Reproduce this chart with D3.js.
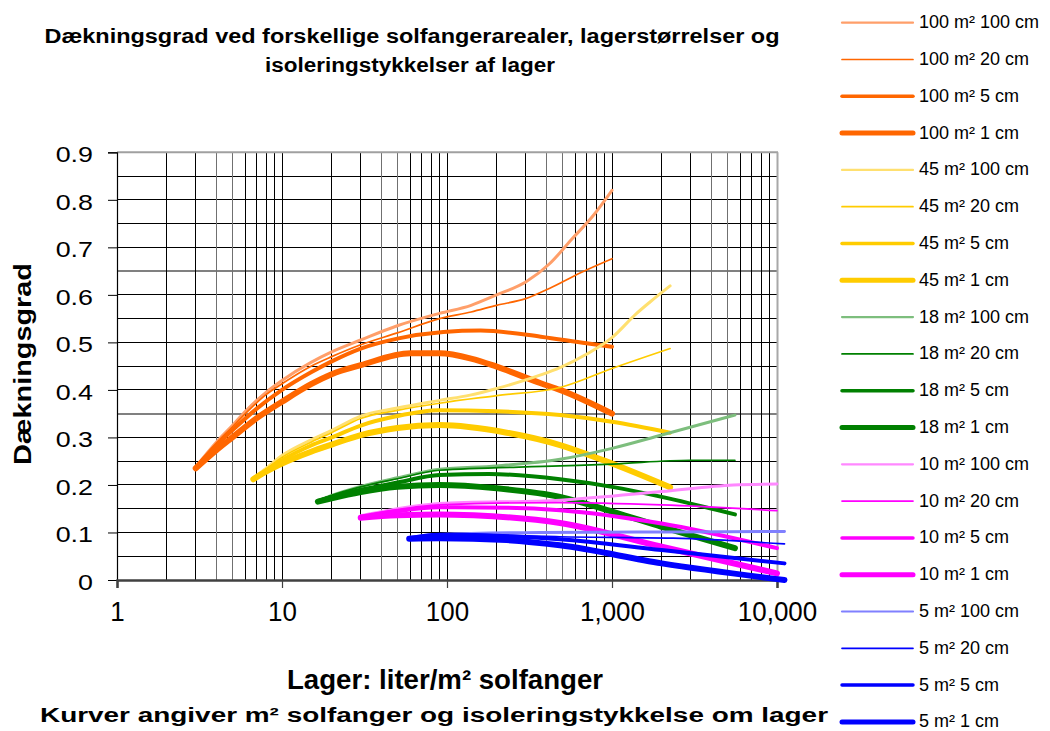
<!DOCTYPE html>
<html><head><meta charset="utf-8">
<script src="https://cdn.jsdelivr.net/npm/d3@7"></script>
<style>
body{margin:0;background:#fff}
svg{display:block}
text{font-family:"Liberation Sans",Arial,sans-serif;fill:#000}
</style>
</head><body>
<svg id="chart" width="1050" height="731"></svg>
<script>
// ---------- data ----------
const titleLines = ["Dækningsgrad ved forskellige solfangerarealer, lagerstørrelser og", "isoleringstykkelser af lager"];
const yTitle = "Dækningsgrad";
const xTitle = "Lager: liter/m² solfanger";
const subTitle = "Kurver angiver m² solfanger og isoleringstykkelse om lager";
const xTickValues = [1, 10, 100, 1000, 10000];
const yTickValues = [0, 0.1, 0.2, 0.3, 0.4, 0.5, 0.6, 0.7, 0.8, 0.9];
const legendLabels = [
  "100 m² 100 cm","100 m² 20 cm","100 m² 5 cm","100 m² 1 cm",
  "45 m² 100 cm","45 m² 20 cm","45 m² 5 cm","45 m² 1 cm",
  "18 m² 100 cm","18 m² 20 cm","18 m² 5 cm","18 m² 1 cm",
  "10 m² 100 cm","10 m² 20 cm","10 m² 5 cm","10 m² 1 cm",
  "5 m² 100 cm","5 m² 20 cm","5 m² 5 cm","5 m² 1 cm"
];
// [liter/m², dækningsgrad]
const a100_100 = [[3,0.238],[4,0.29],[5,0.325],[6,0.355],[8,0.395],[10,0.42],[15,0.458],[20,0.48],[30,0.505],[50,0.535],[90,0.561],[140,0.578],[200,0.6],[300,0.627],[420,0.666],[570,0.717],[770,0.767],[1000,0.82]];
const a100_20  = [[3,0.238],[4,0.288],[5,0.322],[6,0.35],[8,0.39],[10,0.413],[15,0.45],[20,0.47],[30,0.495],[50,0.52],[90,0.55],[140,0.564],[200,0.578],[300,0.592],[420,0.614],[640,0.646],[1000,0.676]];
const a100_5   = [[3,0.237],[4,0.283],[5,0.315],[7,0.36],[10,0.4],[15,0.437],[20,0.46],[30,0.487],[50,0.508],[95,0.522],[160,0.525],[370,0.512],[700,0.498],[1000,0.491]];
const a100_1   = [[3,0.235],[4,0.273],[5,0.3],[7,0.34],[10,0.375],[15,0.412],[20,0.433],[30,0.452],[60,0.477],[90,0.477],[140,0.466],[200,0.449],[370,0.414],[484,0.4],[1000,0.35]];
const a45_100  = [[6.7,0.215],[8,0.235],[10,0.262],[15,0.295],[20,0.315],[30,0.345],[50,0.362],[90,0.378],[138,0.389],[200,0.403],[366,0.431],[484,0.447],[700,0.475],[1000,0.51],[1400,0.56],[1700,0.585],[2250,0.619]];
const a45_20   = [[6.7,0.214],[8,0.233],[10,0.258],[15,0.29],[20,0.31],[30,0.34],[50,0.357],[90,0.372],[200,0.388],[484,0.405],[1000,0.445],[2250,0.487]];
const a45_5    = [[6.7,0.213],[8,0.23],[10,0.252],[15,0.283],[20,0.3],[30,0.325],[50,0.345],[90,0.357],[200,0.355],[484,0.347],[1000,0.333],[2250,0.31]];
const a45_1    = [[6.7,0.212],[8,0.228],[10,0.245],[15,0.27],[20,0.285],[30,0.305],[50,0.32],[90,0.326],[230,0.31],[484,0.284],[1000,0.245],[2250,0.195]];
const a18_100  = [[16.5,0.167],[20,0.178],[30,0.197],[50,0.215],[90,0.233],[200,0.24],[484,0.254],[1000,0.277],[2000,0.305],[5560,0.347]];
const a18_20   = [[16.5,0.167],[20,0.178],[30,0.196],[50,0.213],[90,0.231],[484,0.24],[1000,0.244],[3000,0.252],[5560,0.252]];
const a18_5    = [[16.5,0.166],[20,0.175],[30,0.19],[50,0.205],[90,0.221],[180,0.223],[484,0.212],[1000,0.196],[2000,0.175],[5560,0.138]];
const a18_1    = [[16.5,0.165],[20,0.172],[30,0.185],[50,0.196],[90,0.2],[200,0.193],[484,0.175],[1000,0.144],[2000,0.112],[5560,0.067]];
const a10_100  = [[30,0.135],[50,0.15],[90,0.161],[484,0.168],[2000,0.186],[5450,0.2],[10000,0.202]];
const a10_20   = [[30,0.134],[50,0.148],[90,0.158],[484,0.163],[2000,0.158],[10000,0.146]];
const a10_5    = [[30,0.133],[50,0.145],[90,0.153],[230,0.152],[484,0.147],[2000,0.119],[10000,0.067]];
const a10_1    = [[30,0.131],[50,0.136],[90,0.138],[145,0.136],[484,0.12],[2000,0.07],[10000,0.014]];
const a5_100   = [[59,0.09],[90,0.096],[366,0.1],[2000,0.101],[11100,0.102]];
const a5_20    = [[59,0.089],[90,0.097],[484,0.091],[2340,0.088],[11100,0.076]];
const a5_5     = [[59,0.088],[90,0.095],[484,0.086],[2000,0.063],[11100,0.035]];
const a5_1     = [[59,0.087],[90,0.088],[230,0.084],[484,0.073],[2000,0.035],[11100,0.0]];

const seriesData = [a100_100,a100_20,a100_5,a100_1,a45_100,a45_20,a45_5,a45_1,a18_100,a18_20,a18_5,a18_1,a10_100,a10_20,a10_5,a10_1,a5_100,a5_20,a5_5,a5_1];

// ---------- styles ----------
const baseColors = ["#FF6600","#FFCC00","#008000","#FF00FF","#0000FF"];
const lightColors = ["#FF9F6A","#FFE070","#7DBE7D","#FF88FF","#8080FF"];
const plotWidths = [3, 1.7, 4, 6];
const legendWidths = [2.2, 1.7, 3.5, 5];
function colorOf(i){ return (i % 4 === 0) ? lightColors[Math.floor(i/4)] : baseColors[Math.floor(i/4)]; }

// ---------- chart ----------
const svg = d3.select("#chart");
const L = 117, R = 777, T = 152.3, B = 580;
const x = d3.scaleLog().domain([1, 10000]).range([L, R]);
const y = d3.scaleLinear().domain([0, 0.9]).range([B, T]);

const grid = svg.append("g");
// horizontal gridlines every 0.05
d3.range(1, 18).forEach(k => {
  const v = k * 0.05;
  const grey = (k === 7 || k === 13);
  grid.append("line").attr("x1", L).attr("x2", R).attr("y1", y(v)).attr("y2", y(v))
    .attr("stroke", grey ? "#808080" : "#000").attr("stroke-width", grey ? 2 : 1)
    .attr("shape-rendering", "crispEdges");
});
// vertical log gridlines
const vVals = [];
[1, 10, 100, 1000].forEach(d => { for (let m = 2; m <= 9; m++) vVals.push(m * d); if (d > 1) vVals.push(d); });
vVals.push(1000);
vVals.forEach(v => {
  const m = Math.round(v / Math.pow(10, Math.floor(Math.log10(v) + 1e-9)));
  const grey = (m === 4 || m === 5);
  grid.append("line").attr("x1", x(v)).attr("x2", x(v)).attr("y1", T).attr("y2", B)
    .attr("stroke", grey ? "#707070" : "#000").attr("stroke-width", 1)
    .attr("shape-rendering", "crispEdges");
});
// top and right borders
grid.append("line").attr("x1", L).attr("x2", R + 1).attr("y1", T).attr("y2", T).attr("stroke", "#a0a0a0").attr("stroke-width", 2);
grid.append("line").attr("x1", R + 0.5).attr("x2", R + 0.5).attr("y1", T).attr("y2", B).attr("stroke", "#a8a8a8").attr("stroke-width", 2);

// y axis
const yAxis = svg.append("g").attr("transform", `translate(${L},0)`)
  .call(d3.axisLeft(y).tickValues(yTickValues).tickSize(9).tickPadding(15).tickFormat(d => d === 0 ? "0" : d3.format(".1f")(d)));
yAxis.select(".domain").attr("stroke", "#000").attr("stroke-width", 1.2);
yAxis.selectAll(".tick line").attr("stroke", "#000");
yAxis.selectAll(".tick text").attr("font-size", 22).attr("font-family", "Liberation Sans, Arial, sans-serif")
  .attr("dy", "0.42em").each(function(){ const w = this.getComputedTextLength(); d3.select(this).attr("textLength", w * 1.22).attr("lengthAdjust", "spacingAndGlyphs"); });

// x axis
const xAxis = svg.append("g").attr("transform", `translate(0,${B})`)
  .call(d3.axisBottom(x).tickValues(xTickValues).tickSize(8).tickPadding(14).tickFormat(d3.format(",")));
xAxis.select(".domain").attr("stroke", "#404040").attr("stroke-width", 2.5);
xAxis.selectAll(".tick line").attr("stroke", "#404040").attr("stroke-width", 1.2);
xAxis.selectAll(".tick text").attr("font-size", 27).attr("font-family", "Liberation Sans, Arial, sans-serif").attr("dy", "0.71em")
  .each(function(){ const w = this.getComputedTextLength(); d3.select(this).attr("textLength", w * 0.96).attr("lengthAdjust", "spacingAndGlyphs"); });

// series
const line = d3.line().x(d => x(d[0])).y(d => y(d[1])).curve(d3.curveMonotoneX);
seriesData.forEach((s, i) => {
  svg.append("path").datum(s).attr("d", line).attr("fill", "none")
    .attr("stroke", colorOf(i)).attr("stroke-width", plotWidths[i % 4])
    .attr("stroke-linecap", "round").attr("stroke-linejoin", "round");
});

// legend
const lg = svg.append("g");
legendLabels.forEach((lab, i) => {
  const cy = 22.7 + i * 36.8;
  lg.append("line").attr("x1", 842).attr("x2", 913).attr("y1", cy).attr("y2", cy)
    .attr("stroke", colorOf(i)).attr("stroke-width", legendWidths[i % 4]).attr("stroke-linecap", "round");
  lg.append("text").attr("x", 919).attr("y", cy + 5.5).attr("font-size", 18).text(lab);
});

// titles
function fitText(sel, len){ sel.attr("textLength", len).attr("lengthAdjust", "spacingAndGlyphs"); return sel; }
fitText(svg.append("text").attr("x", 412).attr("y", 43).attr("text-anchor", "middle").attr("font-size", 20).attr("font-weight", "bold").text(titleLines[0]), 735);
fitText(svg.append("text").attr("x", 410).attr("y", 72).attr("text-anchor", "middle").attr("font-size", 20).attr("font-weight", "bold").text(titleLines[1]), 290);
fitText(svg.append("text").attr("transform", "translate(31,364) rotate(-90)").attr("text-anchor", "middle").attr("font-size", 23).attr("font-weight", "bold").text(yTitle), 202);
fitText(svg.append("text").attr("x", 445).attr("y", 689).attr("text-anchor", "middle").attr("font-size", 28).attr("font-weight", "bold").text(xTitle), 316);
fitText(svg.append("text").attr("x", 434).attr("y", 722).attr("text-anchor", "middle").attr("font-size", 20).attr("font-weight", "bold").text(subTitle), 788);
</script>
</body></html>
